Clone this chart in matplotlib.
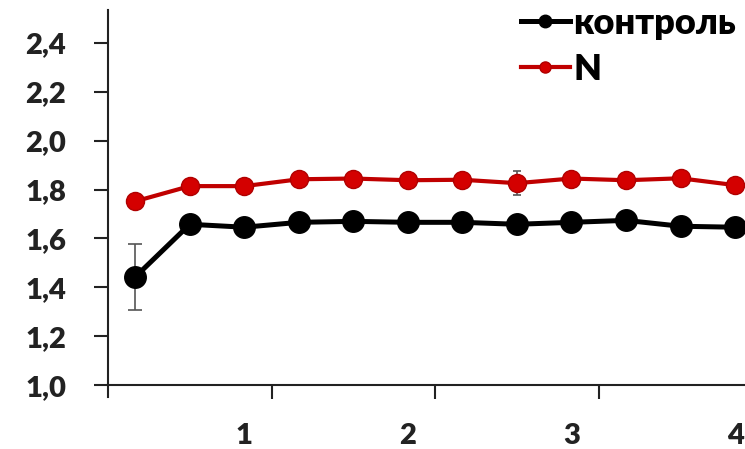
import matplotlib
matplotlib.use("Agg")
import matplotlib.pyplot as plt
from matplotlib.ticker import FixedLocator, FuncFormatter

plt.rcParams['font.family'] = ['Lato', 'DejaVu Sans']

# data: 12 measurements, labelled every 3rd point (1..4)
x_idx = list(range(1, 13))
control = [1.443, 1.658, 1.646, 1.666, 1.670, 1.666, 1.666, 1.658, 1.666, 1.674, 1.650, 1.646]
control_err = [0.135, 0.01, 0.01, 0.01, 0.01, 0.01, 0.01, 0.01, 0.01, 0.01, 0.01, 0.01]
treat = [1.752, 1.814, 1.814, 1.842, 1.845, 1.838, 1.840, 1.826, 1.845, 1.838, 1.846, 1.818]
treat_err = [0.01, 0.01, 0.01, 0.01, 0.01, 0.01, 0.01, 0.05, 0.01, 0.01, 0.01, 0.01]
tick_labels = ['1', '2', '3', '4']
series_names = ['контроль', 'N']

x = [i / 3 for i in x_idx]

fig = plt.figure(figsize=(7.45, 4.49), dpi=100)
ax = fig.add_axes([0.145, 0.1158, 0.855, 0.862])

ax.errorbar(x, control, yerr=control_err, fmt='none', ecolor='#555555',
            elinewidth=1.2, capsize=5, capthick=1.2, zorder=2)
ax.errorbar(x, treat, yerr=treat_err, fmt='none', ecolor='#555555',
            elinewidth=1.2, capsize=3, capthick=1.2, zorder=2)
ax.plot(x, control, color='black', lw=3.6, marker='o', ms=15.5,
        mfc='black', mec='black', label=series_names[0], zorder=3)
ax.plot(x, treat, color='#C00000', lw=3.0, marker='o', ms=13,
        mfc='#D40000', mec='#B00000', label=series_names[1], zorder=3)

ax.set_xlim(1 / 6, 4.061)
ax.set_ylim(0.952, 2.534)
ax.spines['bottom'].set_position(('data', 1.0))
ax.spines['top'].set_visible(False)
ax.spines['right'].set_visible(False)
for s in ['left', 'bottom']:
    ax.spines[s].set_linewidth(1.5)
    ax.spines[s].set_color('#222222')

ax.set_yticks([1.0, 1.2, 1.4, 1.6, 1.8, 2.0, 2.2, 2.4])
ax.yaxis.set_major_formatter(FuncFormatter(lambda v, p: f"{v:.1f}".replace('.', ',')))
ax.tick_params(axis='y', direction='out', length=10, width=1.5, pad=20,
               labelsize=21, colors='#222222')
for lab in ax.get_yticklabels():
    lab.set_fontweight('heavy')

ax.xaxis.set_major_locator(FixedLocator([1, 2, 3, 4]))
ax.set_xticklabels(tick_labels, fontsize=21, fontweight='heavy', color='#222222')
ax.xaxis.set_minor_locator(FixedLocator([1 + 1 / 6, 2 + 1 / 6, 3 + 1 / 6]))
ax.tick_params(axis='x', which='major', length=0, pad=27)
ax.tick_params(axis='x', which='minor', direction='out', length=10, width=1.5, color='#222222')

leg = ax.legend(loc='upper left', bbox_to_anchor=(521 / 745, 1 - 7 / 449),
                bbox_transform=fig.transFigure, frameon=False, borderpad=0,
                borderaxespad=0, handlelength=1.35, handletextpad=0.1,
                labelspacing=0.36, prop={'size': 26, 'weight': 'heavy'})
for h, ms in zip(leg.legend_handles, [9, 8]):
    h.set_markersize(ms)

fig.savefig('out.png', dpi=100)
